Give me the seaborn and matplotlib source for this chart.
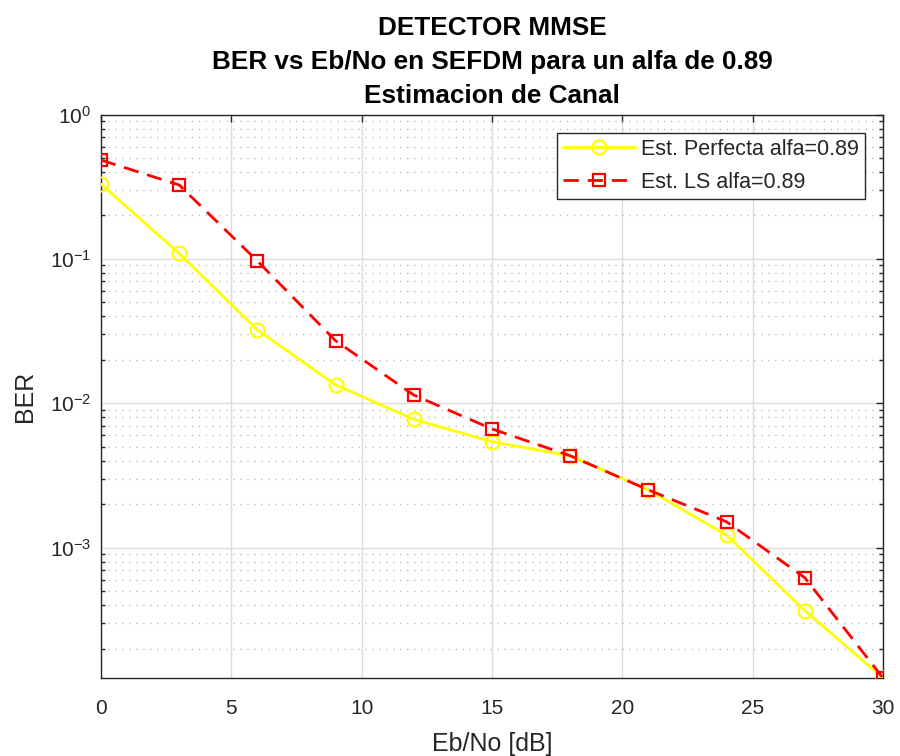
import numpy as np
import pandas as pd
import matplotlib
matplotlib.use("Agg")
import matplotlib.pyplot as plt
from matplotlib.ticker import LogLocator, NullFormatter, FixedLocator
import seaborn as sns

# Eb/No sweep and measured BER for both channel estimators
ebno_db = [0, 3, 6, 9, 12, 15, 18, 21, 24, 27, 30]
ber_perfect = [0.330, 0.109, 0.0322, 0.0134, 0.00774, 0.00542, 0.00432,
               0.00251, 0.00122, 3.66e-4, 1.25e-4]
ber_ls = [0.484, 0.325, 0.0967, 0.0271, 0.0114, 0.00664, 0.00433,
          0.00251, 0.00151, 6.19e-4, 1.25e-4]
label_perfect = "Est. Perfecta alfa=0.89"
label_ls = "Est. LS alfa=0.89"
x_ticks = [0, 5, 10, 15, 20, 25, 30]

sns.set_theme(style="white")
plt.rcParams["font.family"] = ["Liberation Sans", "DejaVu Sans"]
plt.rcParams["mathtext.fontset"] = "custom"
plt.rcParams["mathtext.rm"] = "Liberation Sans"
plt.rcParams["mathtext.it"] = "Liberation Sans"

fig = plt.figure(figsize=(9, 7.56), dpi=100)
ax = fig.add_axes([0.1122, 0.1032, 0.8689, 0.7453])

df_p = pd.DataFrame({"x": ebno_db, "y": ber_perfect})
df_l = pd.DataFrame({"x": ebno_db, "y": ber_ls})

sns.lineplot(data=df_p, x="x", y="y", ax=ax, color="#FFFF00", lw=2,
             marker="o", markersize=10, markerfacecolor="none",
             markeredgecolor="#FFFF00", markeredgewidth=1.6,
             label=label_perfect, zorder=3)
sns.lineplot(data=df_l, x="x", y="y", ax=ax, color="#FF0000", lw=2,
             linestyle=(0, (5.5, 3.2)), marker="s", markersize=9,
             markerfacecolor="none", markeredgecolor="#FF0000",
             markeredgewidth=1.6, label=label_ls, zorder=4)

ax.set_yscale("log")
ax.set_xlim(0, 30)
ax.set_ylim(1.25e-4, 1)
ax.xaxis.set_major_locator(FixedLocator(x_ticks))
ax.yaxis.set_major_locator(LogLocator(base=10, numticks=10))
ax.yaxis.set_minor_locator(LogLocator(base=10, subs=np.arange(2, 10), numticks=20))
ax.yaxis.set_minor_formatter(NullFormatter())

tick_col = "#262626"
ax.grid(True, which="major", axis="both", color="#DCDCDC", lw=1.0, ls="-")
ax.grid(True, which="minor", axis="y", color="#BDBDBD", lw=1.0, ls=(0, (1, 4)))
ax.set_axisbelow(True)

for s in ax.spines.values():
    s.set_color(tick_col)
    s.set_linewidth(1.0)
ax.tick_params(axis="both", which="major", direction="in", length=5, width=1,
               color=tick_col, labelcolor=tick_col, labelsize=15,
               top=True, right=True)
ax.tick_params(axis="y", which="minor", direction="in", length=3, width=1,
               color=tick_col, left=True, right=True)
ax.tick_params(axis="x", pad=15)
ax.tick_params(axis="y", pad=7)

ax.set_xlabel("Eb/No [dB]", fontsize=18, color=tick_col, labelpad=10)
ax.set_ylabel("BER", fontsize=18, color=tick_col, labelpad=9)
ax.set_title("DETECTOR MMSE\nBER vs Eb/No en SEFDM para un alfa de 0.89\nEstimacion de Canal",
             fontsize=18.8, fontweight="bold", color="black", linespacing=1.55, pad=8)

leg = ax.legend(loc="upper right", fontsize=15.5, frameon=True, fancybox=False,
                edgecolor=tick_col, framealpha=1, handlelength=3.35,
                borderaxespad=0.85, borderpad=0.28, labelspacing=0.55,
                handletextpad=0.28)
leg.get_frame().set_linewidth(1.0)

fig.savefig("out.png", dpi=100, facecolor="white")
